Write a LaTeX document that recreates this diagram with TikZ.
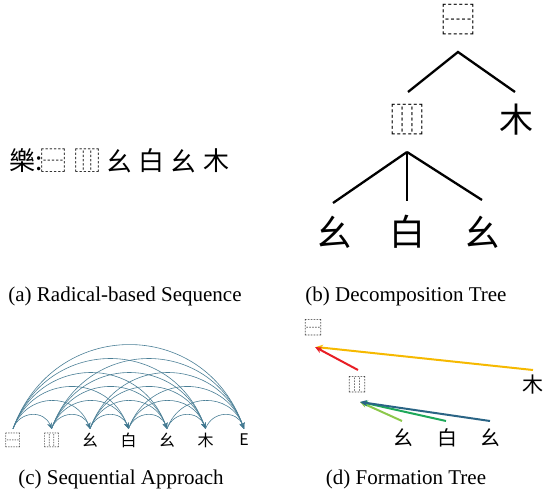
\documentclass[tikz,border=0pt]{standalone}
\usepackage{fontspec}
\setmainfont{Liberation Serif}
\newfontfamily\cjk{Noto Sans CJK SC}
\usepackage{tikz}
\usetikzlibrary{arrows.meta}
\definecolor{seq}{RGB}{43,104,132}
\definecolor{fred}{RGB}{232,30,37}
\definecolor{forange}{RGB}{246,185,0}
\definecolor{flgreen}{RGB}{140,200,75}
\definecolor{fgreen}{RGB}{30,168,90}
\definecolor{fblue}{RGB}{42,100,133}

\begin{document}
\begin{tikzpicture}[x=1pt,y=-1pt,
  caption/.style={font=\fontsize{21}{24}\selectfont},
  rad/.style={font=\cjk\fontsize{#1}{#1}\selectfont, inner sep=0pt},
  branch/.style={line width=2.3pt},
  arc/.style={seq!85, line width=0.6pt, -{Stealth[length=6pt,width=5pt,fill=seq]}},
  form/.style={line width=2pt, -{Stealth[length=7pt,width=6pt]}}]
\useasboundingbox (0,0) rectangle (545,497);
% (a)
\foreach \x/\ch [count=\i] in {26/樂:, 53/⿱, 87/⿲, 119/幺, 151/白, 183/幺, 216/木}{
\node[rad=26] (a\i) at (\x,161) {\ch};
}
\node[caption] (capa) at (125,296) {(a) Radical-based Sequence};
% (b)
\node[rad=34] (root) at (458,20) {⿱};
\node[rad=34] (mid) at (407,120) {⿲};
\node[rad=34] (mu) at (516,120) {木};
\foreach \x/\ch [count=\i] in {334/幺, 407/白, 482/幺}{
\node[rad=36] (leaf\i) at (\x,232) {\ch};
}
\coordinate (j1) at (458,52);
\coordinate (j2) at (407,152);
\draw[branch] (408,92) -- (j1) -- (515,92);
\draw[branch] (j2) -- (333,203);
\draw[branch] (j2) -- (407,201);
\draw[branch] (j2) -- (482,200);
\node[caption] (capb) at (406,296) {(b) Decomposition Tree};
% (c)
\foreach \ch [count=\i] in {⿱, ⿲, 幺, 白, 幺, 木, E}{
\node[rad=16, minimum height=22pt] (c\i) at ({13+38.5*(\i-1)},440) {\ch};
}
\foreach \i in {1,...,6}{
\pgfmathtruncatemacro{\s}{\i+1}
\foreach \j in {\s,...,7}{
\draw[arc] (c\i.north) to[bend left=70, looseness=1.32] (c\j.north);
}
}
\node[caption] (capc) at (121,479) {(c) Sequential Approach};
% (d)
\node[rad=18] (d1) at (313,328) {⿱};
\node[rad=18] (d2) at (357,385) {⿲};
\node[rad=21] (d3) at (533,385) {木};
\foreach \x/\ch [count=\i] in {403/幺, 447/白, 490/幺}{
\node[rad=20] (e\i) at (\x,438) {\ch};
}
\draw[form, forange] ([xshift=0pt,yshift=15pt]d3.center) -- ([xshift=3pt,yshift=-19pt]d1.center);
\draw[form, fred] ([xshift=1pt,yshift=15pt]d2.center) -- ([xshift=2pt,yshift=-19pt]d1.center);
\draw[form, flgreen] ([xshift=-1pt,yshift=17pt]e1.center) -- ([xshift=3pt,yshift=-17pt]d2.center);
\draw[form, fgreen] ([xshift=-1pt,yshift=17pt]e2.center) -- ([xshift=4pt,yshift=-17pt]d2.center);
\draw[form, fblue] ([yshift=17pt]e3.center) -- ([xshift=3pt,yshift=-17pt]d2.center);
\node[caption] (capd) at (406,479) {(d) Formation Tree};
\end{tikzpicture}
\end{document}
